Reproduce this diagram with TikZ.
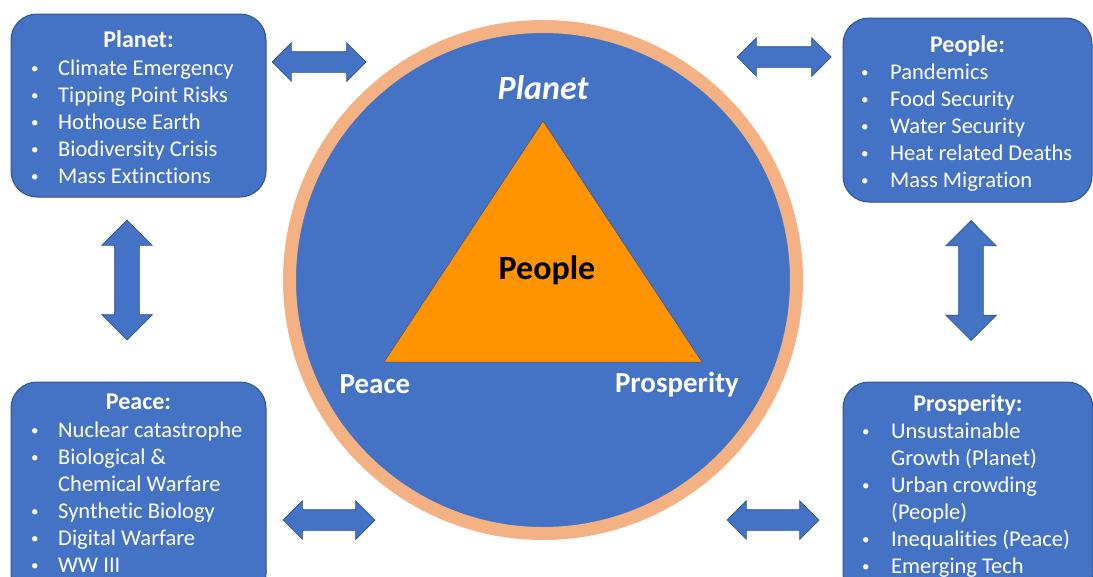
\documentclass[tikz,border=0pt]{standalone}
\usepackage{fontspec}
\setmainfont{Carlito}[Ligatures=NoCommon]
\usetikzlibrary{shapes.arrows,positioning}

\definecolor{boxblue}{HTML}{4472C4}
\definecolor{edgeblue}{HTML}{2F528F}
\definecolor{ringpeach}{HTML}{F4B183}
\definecolor{triorange}{HTML}{FF9300}

\newcommand{\listfont}{\fontsize{22.5}{27}\selectfont}
\newcommand{\dotmark}{\raisebox{2pt}{\fontsize{15}{15}\selectfont\textbullet}}

\begin{document}
\begin{tikzpicture}[
  x=1pt, y=-1pt, % picture measured like the image, y downwards
  inner sep=0pt,
  riskbox/.style={draw=edgeblue, fill=boxblue, line width=1pt,
    rounded corners=26pt, minimum width=255pt},
  boxtitle/.style={anchor=base, text=white, font=\fontsize{24}{28}\selectfont\bfseries},
  boxlist/.style={anchor=base west, text=white, font=\listfont},
  twoway/.style={double arrow, draw=edgeblue, fill=boxblue, line width=0.7pt,
    inner xsep=0pt, inner ysep=10pt,
    minimum height=94pt, minimum width=38pt, double arrow head extend=9pt},
  updown/.style={twoway, rotate=90, inner ysep=12pt, minimum height=120pt,
    minimum width=50pt, double arrow head extend=13pt}
]
\useasboundingbox (0,0) rectangle (1093,576);
\clip (0,0) rectangle (1093,576);

% the circle and the triangle
\node[circle, fill=boxblue, draw=ringpeach, line width=13pt, minimum size=507pt] (globe) at (543,280) {};
\coordinate (apex) at (543,121);
\coordinate (peacecorner) at (384,362);
\coordinate (prospcorner) at (702,362);
\draw[fill=triorange, draw=edgeblue, line width=0.5pt] (apex) -- (peacecorner) -- (prospcorner) -- cycle;

\node[anchor=base, text=white, font=\fontsize{34}{40}\selectfont\bfseries\itshape] (planetlabel) at (543,99) {Planet};
\node[anchor=base, text=black, font=\fontsize{34}{40}\selectfont\bfseries] (peoplelabel) at (547,279) {People};
\node[anchor=base, text=white, font=\fontsize{29}{34}\selectfont\bfseries] (peacelabel) at (375,393) {Peace};
\node[anchor=base, text=white, font=\fontsize{29}{34}\selectfont\bfseries] (prosplabel) at (677,392) {Prosperity};

% Planet box
\node[riskbox, minimum height=183pt] (planetbox) at (138.5,105.5) {};
\node[boxtitle] (planettitle) at (138.5,47) {Planet:};
\node[boxlist] (planetlist) at (31,75) {\begin{tabular}[t]{@{}p{27pt}@{}l@{}}
  \dotmark & Climate Emergency\\
  \dotmark & Tipping Point Risks\\
  \dotmark & Hothouse Earth\\
  \dotmark & Biodiversity Crisis\\
  \dotmark & Mass Extinctions
\end{tabular}};

% People box
\node[riskbox, minimum width=249pt, minimum height=184pt] (peoplebox) at (967.5,110) {};
\node[boxtitle] (peopletitle) at (967.5,52) {People:};
\node[boxlist] (peoplelist) at (861,79) {\begin{tabular}[t]{@{}p{29pt}@{}l@{}}
  \dotmark & Pandemics\\
  \dotmark & Food Security\\
  \dotmark & Water Security\\
  \dotmark & Heat related Deaths\\
  \dotmark & Mass Migration
\end{tabular}};

% Peace box
\node[riskbox, minimum height=218pt] (peacebox) at (138.5,491) {};
\node[boxtitle] (peacetitle) at (138.5,409) {Peace:};
\node[boxlist] (peacelist) at (31,437) {\begin{tabular}[t]{@{}p{27pt}@{}l@{}}
  \dotmark & Nuclear catastrophe\\
  \dotmark & Biological \&\\
           & Chemical Warfare\\
  \dotmark & Synthetic Biology\\
  \dotmark & Digital Warfare\\
  \dotmark & WW III
\end{tabular}};

% Prosperity box
\node[riskbox, minimum width=250pt, minimum height=218pt] (prospbox) at (968,491) {};
\node[boxtitle] (prosptitle) at (968,411) {Prosperity:};
\node[boxlist] (prosplist) at (862,438) {\begin{tabular}[t]{@{}p{29pt}@{}l@{}}
  \dotmark & Unsustainable\\
           & Growth (Planet)\\
  \dotmark & Urban crowding\\
           & (People)\\
  \dotmark & Inequalities (Peace)\\
  \dotmark & Emerging Tech
\end{tabular}};

% block arrows between the boxes and the circle
\node[twoway] (arrowtl) at (319,62) {};
\node[twoway, minimum width=37pt] (arrowtr) at (784,57) {};
\node[twoway, minimum height=92pt, minimum width=37pt] (arrowbl) at (329,520) {};
\node[twoway, minimum height=92pt, minimum width=37pt] (arrowbr) at (773,520) {};
\node[updown] (arrowleft) at (127,280) {};
\node[updown] (arrowright) at (971,280.5) {};
\end{tikzpicture}
\end{document}
